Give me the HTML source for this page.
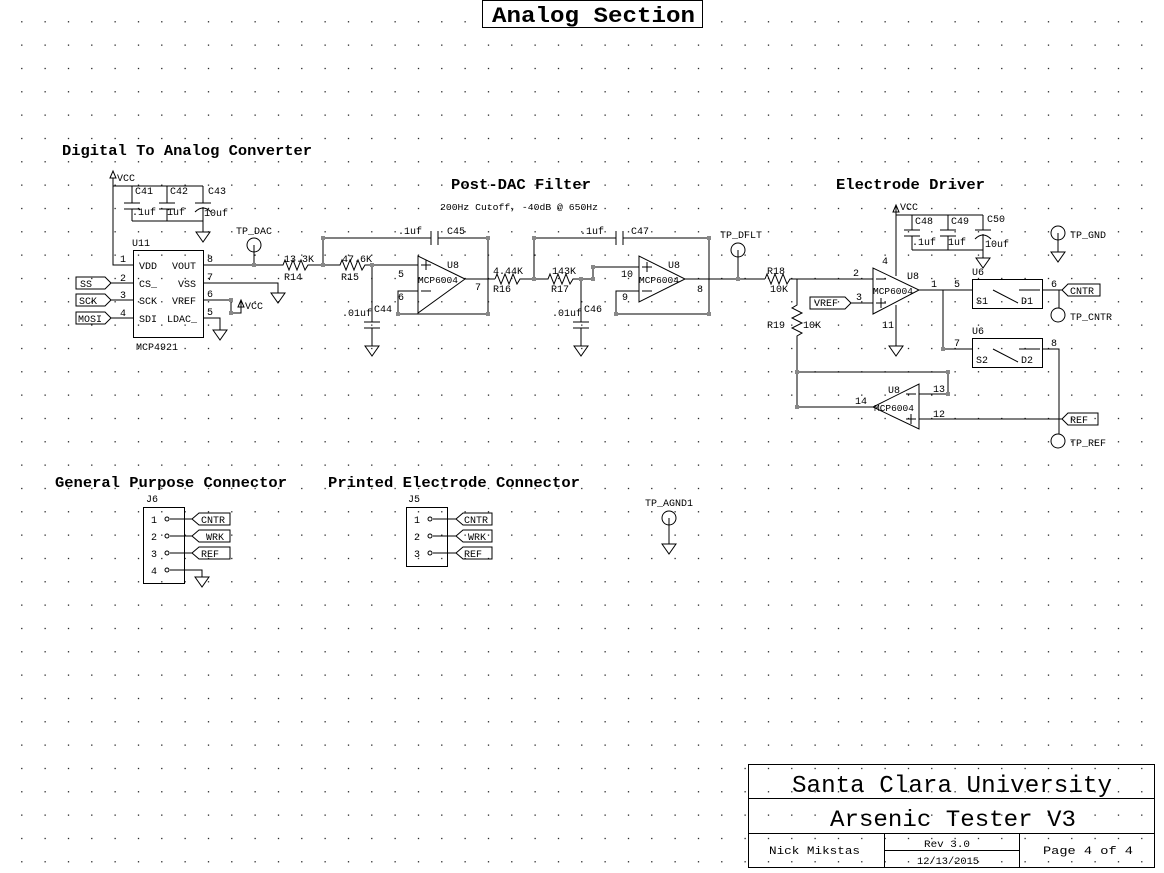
<!DOCTYPE html>
<html><head><meta charset="utf-8"><style>
html,body{margin:0;padding:0;background:#fff}
svg{display:block}
text{font-family:"Liberation Mono","DejaVu Sans Mono",monospace;fill:#000}
.t{font-size:10px}
.h{font-size:15px;font-weight:bold}
</style></head><body>
<svg width="1164" height="873" viewBox="0 0 1164 873" xmlns="http://www.w3.org/2000/svg">
<defs>
<pattern id="g" x="21.2" y="21.2" width="23.333" height="23.333" patternUnits="userSpaceOnUse">
<rect x="0" y="0" width="1.2" height="1.2" fill="#000"/></pattern>
</defs>
<rect width="1164" height="873" fill="url(#g)"/>
<g fill="none" stroke="#000" stroke-width="1">
<rect x="482.5" y="0.5" width="220" height="27" fill="#fff"/>
<rect x="133.5" y="250.5" width="70" height="87"/>
<path d="M113,178 V265 H133 M111,283 H133 M111,300 H133 M111,318 H133"/>
<path d="M113,186 H203 M132,186 V203 M167,186 V203 M203,186 V203 M124,203 H140 M159,203 H175 M124,209 H140 M159,209 H175 M195,203 H211 M195,212 Q203,204 211,212 M132,209 V221 M167,209 V221 M203,207 V232 M132,221 H203"/>
<path d="M196,232 H210 L203,242 Z"/>
<path d="M110,178 L113,171 L116,178 Z"/>
<path d="M76,277 H105 L111,283 L105,289 H76 Z M76,294 H105 L111,300 L105,306 H76 Z M76,312 H105 L111,318 L105,324 H76 Z"/>
<path d="M203,265 H283 L285,260 L289,270 L293,260 L297,270 L301,260 L305,270 L308,265 H340 L342,260 L346,270 L350,260 L354,270 L358,260 L362,270 L365,265 H418"/>
<circle cx="254" cy="245" r="7"/><path d="M254,245 V265"/>
<path d="M203,283 H278 V293 M271,293 H285 L278,303 Z"/>
<path d="M203,300 H231 V313 H241 V300 M238,307 L241,300 L244,307 Z"/>
<path d="M203,318 H220 V330 M213,330 H227 L220,340 Z"/>
<path d="M323,265 V238 H431 M431,231 V245 M438,231 V245 M438,238 H488 V314 H398 V291 H418 M465,279 H495"/>
<path d="M372,265 V322 M364,322 H380 M364,328 H380 M372,328 V346 M365,346 H379 L372,356 Z"/>
<path d="M418,256 V313 L465,279 Z"/>
<path d="M421,265 H431 M426,260 V270 M421,291 H431"/>
<path d="M495,279 L497,274 L501,284 L505,274 L509,284 L513,274 L517,284 L520,279 H548 L550,274 L554,284 L558,274 L562,284 L566,274 L570,284 L573,279 H593 V267 H639"/>
<path d="M534,279 V238 H616 M616,231 V245 M623,231 V245 M623,238 H709 V314 H616 V291 H639 M685,279 H765"/>
<path d="M581,279 V322 M573,322 H589 M573,328 H589 M581,328 V346 M574,346 H588 L581,356 Z"/>
<path d="M639,256 V302 L685,279 Z"/>
<path d="M642,267 H652 M647,262 V272 M642,291 H652"/>
<circle cx="738" cy="250" r="7"/><path d="M738,250 V279"/>
<path d="M765,279 L767,274 L771,284 L775,274 L779,284 L783,274 L787,284 L790,279 H873"/>
<path d="M797,279 V305 L792,308 L802,313 L792,318 L802,323 L792,328 L802,333 L797,336 V407 H873 M797,372 H948 V394 H919"/>
<path d="M873,268 V314 L919,290 Z"/>
<path d="M876,279 H886 M876,303 H886 M881,298 V308"/>
<path d="M919,384 V429 L873,407 Z"/>
<path d="M906,394 H916 M906,419 H916 M911,414 V424"/>
<path d="M810,297 H845 L851,303 L845,309 H810 Z M851,303 H873"/>
<path d="M896,205 V276 M896,305 V346 M889,346 H903 L896,356 Z M893,212 L896,205 L899,212 Z"/>
<path d="M896,215 H983 M912,215 V230 M948,215 V230 M983,215 V230 M904,230 H920 M940,230 H956 M904,236 H920 M940,236 H956 M975,230 H991 M975,239 Q983,231 991,239 M912,236 V250 M948,236 V250 M983,234 V258 M912,250 H983 M976,258 H990 L983,268 Z"/>
<path d="M919,290 H972 M943,290 V349 H972"/>
<rect x="972.5" y="279.5" width="70" height="29"/>
<rect x="972.5" y="338.5" width="70" height="29"/>
<path d="M993,290 L1018,303 M1019,290 H1040 M993,349 L1018,362 M1019,349 H1040"/>
<path d="M1042,290 H1062 M1059,290 V308 M1042,349 H1059 V434 M919,419 H1062"/>
<path d="M1062,290 L1068,284 H1100 V296 H1068 Z M1062,419 L1068,413 H1098 V425 H1068 Z"/>
<circle cx="1058" cy="315" r="7"/><circle cx="1058" cy="441" r="7"/>
<circle cx="1058" cy="233" r="7"/><path d="M1058,233 V252 M1051,252 H1065 L1058,262 Z"/>
<rect x="143.5" y="507.5" width="41" height="76"/>
<rect x="406.5" y="507.5" width="41" height="59"/>
<path d="M170,519 H192 M170,536 H192 M170,553 H192 M170,570 H202 V577 M195,577 H209 L202,587 Z"/>
<path d="M433,519 H456 M433,536 H456 M433,553 H456"/>
<path d="M192,519 L199,513 H230 V525 H199 Z M192,536 L199,530 H230 V542 H199 Z M192,553 L199,547 H230 V559 H199 Z"/>
<path d="M456,519 L463,513 H492 V525 H463 Z M456,536 L463,530 H492 V542 H463 Z M456,553 L463,547 H492 V559 H463 Z"/>
<circle cx="167" cy="519" r="2"/><circle cx="167" cy="536" r="2"/><circle cx="167" cy="553" r="2"/><circle cx="167" cy="570" r="2"/>
<circle cx="430" cy="519" r="2"/><circle cx="430" cy="536" r="2"/><circle cx="430" cy="553" r="2"/>
<circle cx="669" cy="518" r="7"/><path d="M669,518 V544 M662,544 H676 L669,554 Z"/>
<rect x="748.5" y="764.5" width="406" height="103"/>
<path d="M748,798.5 H1155 M748,833.5 H1155 M884.5,833 V868 M1019.5,833 V868 M884,850.5 H1019"/>
</g>
<g fill="#888">
<rect x="321" y="263" width="4" height="4"/><rect x="370" y="263" width="4" height="4"/><rect x="321" y="236" width="4" height="4"/><rect x="486" y="236" width="4" height="4"/><rect x="486" y="312" width="4" height="4"/><rect x="396" y="312" width="4" height="4"/><rect x="252" y="263" width="4" height="4"/>
<rect x="229" y="298" width="4" height="4"/><rect x="229" y="311" width="4" height="4"/>
<rect x="532" y="277" width="4" height="4"/><rect x="532" y="236" width="4" height="4"/><rect x="707" y="236" width="4" height="4"/><rect x="707" y="312" width="4" height="4"/><rect x="614" y="312" width="4" height="4"/><rect x="579" y="277" width="4" height="4"/><rect x="591" y="277" width="4" height="4"/><rect x="591" y="265" width="4" height="4"/><rect x="736" y="277" width="4" height="4"/>
<rect x="941" y="347" width="4" height="4"/><rect x="795" y="370" width="4" height="4"/><rect x="946" y="370" width="4" height="4"/><rect x="946" y="392" width="4" height="4"/><rect x="795" y="405" width="4" height="4"/>
</g>
<text x="492" y="22" font-size="22" font-weight="bold" textLength="203" lengthAdjust="spacingAndGlyphs">Analog Section</text>
<text class="h" x="62" y="155" textLength="250" lengthAdjust="spacingAndGlyphs">Digital To Analog Converter</text>
<text class="h" x="451" y="189" textLength="140" lengthAdjust="spacingAndGlyphs">Post-DAC Filter</text>
<text class="h" x="836" y="189" textLength="149" lengthAdjust="spacingAndGlyphs">Electrode Driver</text>
<text class="h" x="55" y="487" textLength="232" lengthAdjust="spacingAndGlyphs">General Purpose Connector</text>
<text class="h" x="328" y="487" textLength="252" lengthAdjust="spacingAndGlyphs">Printed Electrode Connector</text>
<text x="440" y="210" font-size="9" textLength="158" lengthAdjust="spacingAndGlyphs">200Hz Cutoff, -40dB @ 650Hz</text>
<g class="t">
<text x="117" y="181">VCC</text><text x="135" y="194">C41</text><text x="170" y="194">C42</text><text x="208" y="194">C43</text>
<text x="132" y="215">.1uf</text><text x="167" y="215">1uf</text><text x="204" y="216">10uf</text>
<text x="132" y="246">U11</text><text x="236" y="234">TP_DAC</text>
<text x="120" y="262">1</text><text x="120" y="281">2</text><text x="120" y="298">3</text><text x="120" y="316">4</text>
<text x="139" y="269">VDD</text><text x="139" y="287">CS_</text><text x="139" y="304">SCK</text><text x="139" y="322">SDI</text>
<text x="172" y="269">VOUT</text><text x="178" y="287">VSS</text><text x="172" y="304">VREF</text><text x="167" y="322">LDAC_</text>
<text x="207" y="262">8</text><text x="207" y="280">7</text><text x="207" y="297">6</text><text x="207" y="315">5</text>
<text x="80" y="287">SS</text><text x="79" y="304">SCK</text><text x="78" y="322">MOSI</text>
<text x="245" y="309">VCC</text><text x="136" y="350">MCP4921</text>
<text x="284" y="262">13.3K</text><text x="284" y="280">R14</text><text x="342" y="262">47.6K</text><text x="341" y="280">R15</text>
<text x="398" y="234">.1uf</text><text x="447" y="234">C45</text><text x="342" y="316">.01uf</text><text x="374" y="312">C44</text>
<text x="398" y="277">5</text><text x="398" y="300">6</text><text x="475" y="290">7</text><text x="447" y="268">U8</text><text x="418" y="283" font-size="9.5">MCP6004</text>
<text x="493" y="274">4.44K</text><text x="493" y="292">R16</text><text x="552" y="274">143K</text><text x="551" y="292">R17</text>
<text x="580" y="234">.1uf</text><text x="631" y="234">C47</text><text x="552" y="316">.01uf</text><text x="584" y="312">C46</text>
<text x="621" y="277">10</text><text x="622" y="300">9</text><text x="697" y="292">8</text><text x="668" y="268">U8</text><text x="639" y="283" font-size="9.5">MCP6004</text>
<text x="720" y="238">TP_DFLT</text>
<text x="767" y="274">R18</text><text x="770" y="292">10K</text><text x="767" y="328">R19</text><text x="803" y="328">10K</text>
<text x="853" y="276">2</text><text x="856" y="300">3</text><text x="814" y="306">VREF</text><text x="882" y="264">4</text><text x="882" y="328">11</text>
<text x="907" y="279">U8</text><text x="873" y="294" font-size="9.5">MCP6004</text><text x="931" y="287">1</text>
<text x="900" y="210">VCC</text><text x="915" y="224">C48</text><text x="951" y="224">C49</text><text x="987" y="222">C50</text>
<text x="912" y="245">.1uf</text><text x="948" y="245">1uf</text><text x="985" y="247">10uf</text>
<text x="954" y="287">5</text><text x="954" y="346">7</text><text x="972" y="275">U6</text><text x="972" y="334">U6</text>
<text x="976" y="304">S1</text><text x="1021" y="304">D1</text><text x="976" y="363">S2</text><text x="1021" y="363">D2</text>
<text x="1051" y="287">6</text><text x="1051" y="346">8</text><text x="1070" y="294">CNTR</text><text x="1070" y="423">REF</text>
<text x="1070" y="238">TP_GND</text><text x="1070" y="320">TP_CNTR</text><text x="1070" y="446">TP_REF</text>
<text x="888" y="393">U8</text><text x="874" y="411" font-size="9.5">MCP6004</text><text x="855" y="404">14</text><text x="933" y="392">13</text><text x="933" y="417">12</text>
<text x="146" y="502">J6</text><text x="408" y="502">J5</text><text x="645" y="506">TP_AGND1</text>
<text x="151" y="523">1</text><text x="151" y="540">2</text><text x="151" y="557">3</text><text x="151" y="574">4</text>
<text x="414" y="523">1</text><text x="414" y="540">2</text><text x="414" y="557">3</text>
<text x="201" y="523">CNTR</text><text x="206" y="540">WRK</text><text x="201" y="557">REF</text>
<text x="464" y="523">CNTR</text><text x="468" y="540">WRK</text><text x="464" y="557">REF</text>
</g>
<text x="792" y="792" font-size="24" textLength="320" lengthAdjust="spacingAndGlyphs">Santa Clara University</text>
<text x="830" y="826" font-size="23" textLength="246" lengthAdjust="spacingAndGlyphs">Arsenic Tester V3</text>
<text x="769" y="854" font-size="11" textLength="91" lengthAdjust="spacingAndGlyphs">Nick Mikstas</text>
<text x="924" y="847" font-size="10" textLength="46" lengthAdjust="spacingAndGlyphs">Rev 3.0</text>
<text x="917" y="864" font-size="10" textLength="62" lengthAdjust="spacingAndGlyphs">12/13/2015</text>
<text x="1043" y="854" font-size="11" textLength="90" lengthAdjust="spacingAndGlyphs">Page 4 of 4</text>
</svg>
</body></html>
